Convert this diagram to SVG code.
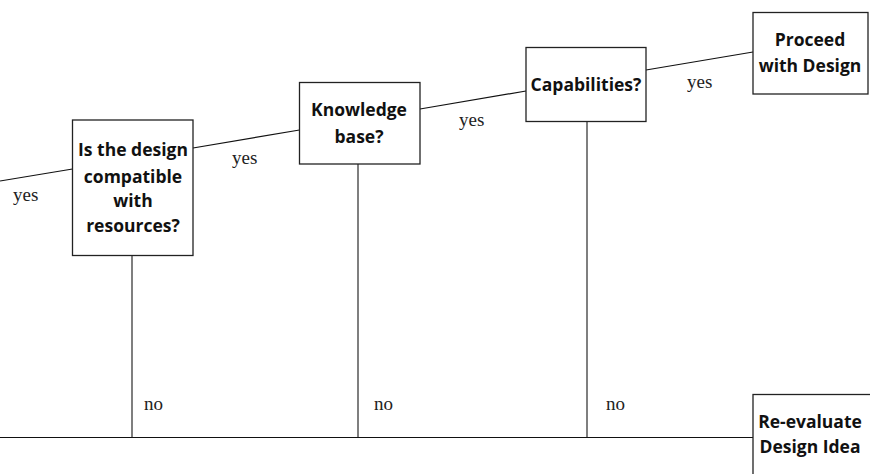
<svg xmlns="http://www.w3.org/2000/svg" width="870" height="474" viewBox="0 0 870 474">
<style>
.box{fill:#fff;stroke:#222;stroke-width:1.3}
.t{font-family:"Open Sans","DejaVu Sans",sans-serif;font-weight:bold;font-size:17.5px;fill:#111;text-anchor:middle}
.l{font-family:"Liberation Serif","Times New Roman",serif;font-size:19px;fill:#222}
.c{stroke:#111;stroke-width:1.2;fill:none}
.v{stroke:#555;stroke-width:1.5;fill:none}
</style>
<rect width="870" height="474" fill="#fff"/>
<g id="connectors">
<line class="c" x1="0" y1="181" x2="72.5" y2="169"/>
<line class="c" x1="193" y1="148" x2="299.5" y2="130"/>
<line class="c" x1="420" y1="109" x2="526" y2="91"/>
<line class="c" x1="646" y1="70" x2="753" y2="52"/>
<line class="v" x1="132" y1="256" x2="132" y2="437"/>
<line class="v" x1="358" y1="164" x2="358" y2="437"/>
<line class="v" x1="587" y1="122" x2="587" y2="437"/>
<line class="c" x1="0" y1="437.5" x2="753" y2="437.5"/>
<text class="l" x="13" y="201">yes</text>
<text class="l" x="232" y="164">yes</text>
<text class="l" x="459" y="126">yes</text>
<text class="l" x="687" y="88">yes</text>
<text class="l" x="144" y="410">no</text>
<text class="l" x="374" y="410">no</text>
<text class="l" x="606" y="410">no</text>
</g>
<g id="n1">
<rect class="box" x="72.5" y="120" width="120.5" height="135.5"/>
<text class="t" x="133" y="156">Is the design</text>
<text class="t" x="133" y="183">compatible</text>
<text class="t" x="133" y="207">with</text>
<text class="t" x="133" y="232">resources?</text>
</g>
<g id="n2">
<rect class="box" x="299.5" y="82.5" width="120.5" height="81.5"/>
<text class="t" x="359" y="116">Knowledge</text>
<text class="t" x="359" y="143">base?</text>
</g>
<g id="n3">
<rect class="box" x="526" y="47.5" width="120" height="74"/>
<text class="t" x="586" y="91">Capabilities?</text>
</g>
<g id="n4">
<rect class="box" x="753" y="12.5" width="115" height="81.5"/>
<text class="t" x="810" y="46">Proceed</text>
<text class="t" x="810" y="72">with Design</text>
</g>
<g id="n5">
<rect class="box" x="753" y="394.5" width="125" height="90"/>
<text class="t" x="810" y="428">Re-evaluate</text>
<text class="t" x="810" y="453">Design Idea</text>
</g>
</svg>
